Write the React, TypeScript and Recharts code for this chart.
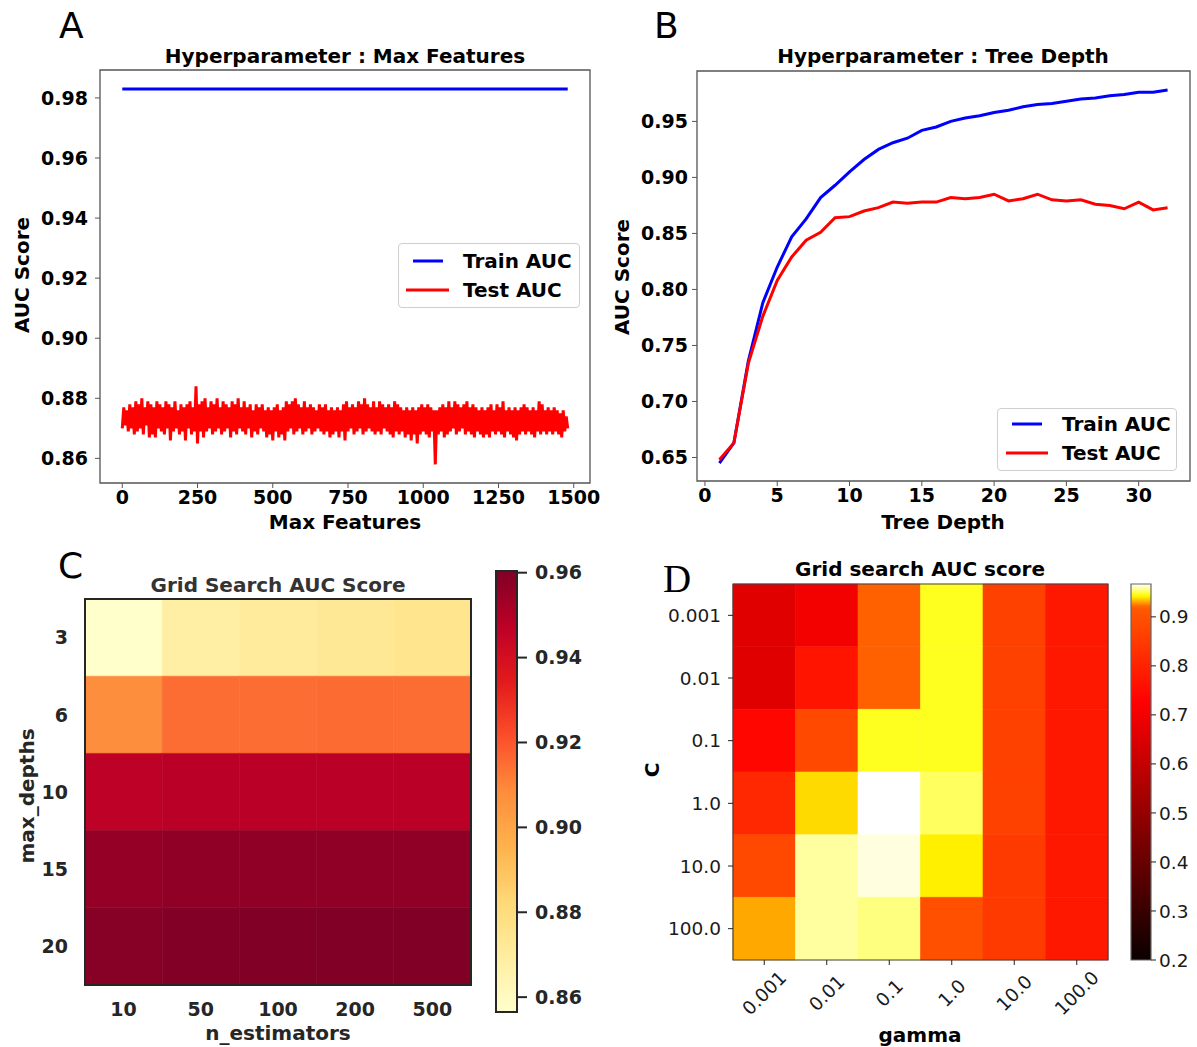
import React from 'react';
import { LineChart, Line, XAxis, YAxis, Legend, ReferenceArea, ScatterChart, Scatter } from 'recharts';

const FONT = '"DejaVu Sans", Verdana, sans-serif';
const SERIF = '"Liberation Serif", "DejaVu Serif", serif';

// ---------------- Panel A : Max Features ----------------
const maxFeatureSteps = Array.from({ length: 297 }, (_, i) => i * 5);
const testAucMaxFeatures = [
  0.870, 0.877, 0.871, 0.876, 0.869, 0.878, 0.870, 0.877, 0.868, 0.879,
  0.869, 0.878, 0.870, 0.880, 0.868, 0.877, 0.871, 0.879, 0.867, 0.878,
  0.868, 0.877, 0.867, 0.879, 0.870, 0.878, 0.869, 0.877, 0.868, 0.879,
  0.870, 0.878, 0.866, 0.877, 0.869, 0.879, 0.870, 0.876, 0.868, 0.878,
  0.869, 0.877, 0.866, 0.878, 0.870, 0.879, 0.868, 0.877, 0.869, 0.884,
  0.865, 0.878, 0.869, 0.879, 0.867, 0.880, 0.869, 0.877, 0.870, 0.879,
  0.868, 0.878, 0.869, 0.880, 0.870, 0.877, 0.868, 0.879, 0.869, 0.878,
  0.870, 0.877, 0.867, 0.879, 0.869, 0.878, 0.868, 0.880, 0.870, 0.877,
  0.869, 0.879, 0.868, 0.877, 0.870, 0.878, 0.867, 0.876, 0.869, 0.878,
  0.868, 0.877, 0.870, 0.878, 0.869, 0.876, 0.867, 0.877, 0.868, 0.876,
  0.866, 0.877, 0.869, 0.878, 0.867, 0.876, 0.868, 0.877, 0.866, 0.879,
  0.869, 0.878, 0.870, 0.879, 0.868, 0.880, 0.869, 0.878, 0.870, 0.877,
  0.868, 0.879, 0.869, 0.877, 0.870, 0.878, 0.868, 0.877, 0.869, 0.876,
  0.870, 0.878, 0.869, 0.877, 0.868, 0.878, 0.869, 0.876, 0.867, 0.877,
  0.868, 0.876, 0.869, 0.877, 0.867, 0.876, 0.869, 0.878, 0.866, 0.879,
  0.869, 0.877, 0.870, 0.878, 0.868, 0.877, 0.869, 0.879, 0.870, 0.878,
  0.868, 0.880, 0.869, 0.878, 0.870, 0.877, 0.869, 0.879, 0.868, 0.877,
  0.869, 0.879, 0.868, 0.878, 0.870, 0.877, 0.869, 0.878, 0.868, 0.877,
  0.867, 0.879, 0.869, 0.878, 0.868, 0.877, 0.869, 0.876, 0.867, 0.877,
  0.868, 0.876, 0.866, 0.877, 0.868, 0.876, 0.865, 0.877, 0.868, 0.878,
  0.869, 0.877, 0.868, 0.878, 0.867, 0.877, 0.869, 0.876, 0.858, 0.876,
  0.868, 0.877, 0.869, 0.878, 0.867, 0.877, 0.868, 0.879, 0.869, 0.877,
  0.870, 0.879, 0.868, 0.878, 0.869, 0.877, 0.870, 0.878, 0.868, 0.879,
  0.869, 0.877, 0.868, 0.878, 0.867, 0.877, 0.869, 0.876, 0.868, 0.877,
  0.867, 0.876, 0.868, 0.877, 0.867, 0.878, 0.869, 0.876, 0.868, 0.878,
  0.869, 0.877, 0.868, 0.879, 0.867, 0.876, 0.869, 0.877, 0.868, 0.876,
  0.867, 0.877, 0.866, 0.876, 0.868, 0.877, 0.869, 0.878, 0.868, 0.877,
  0.869, 0.876, 0.868, 0.877, 0.867, 0.876, 0.869, 0.879, 0.868, 0.878,
  0.869, 0.876, 0.868, 0.877, 0.869, 0.876, 0.868, 0.877, 0.869, 0.876,
  0.868, 0.875, 0.867, 0.876, 0.869, 0.874, 0.870,
];
const trainAucMaxFeatures = 0.983;
const maxFeatureTicks = [0, 250, 500, 750, 1000, 1250, 1500];
const aucTicksA = [0.86, 0.88, 0.9, 0.92, 0.94, 0.96, 0.98];

// ---------------- Panel B : Tree Depth ----------------
const treeDepths = [1, 2, 3, 4, 5, 6, 7, 8, 9, 10, 11, 12, 13, 14, 15, 16, 17, 18, 19, 20, 21, 22, 23, 24, 25, 26, 27, 28, 29, 30, 31, 32];
const trainAucDepth = [0.645, 0.663, 0.736, 0.788, 0.820, 0.847, 0.863, 0.882, 0.893, 0.905, 0.916, 0.925, 0.931, 0.935, 0.942, 0.945, 0.950, 0.953, 0.955, 0.958, 0.960, 0.963, 0.965, 0.966, 0.968, 0.970, 0.971, 0.973, 0.974, 0.976, 0.976, 0.978];
const testAucDepth = [0.648, 0.663, 0.734, 0.776, 0.808, 0.829, 0.844, 0.851, 0.864, 0.865, 0.870, 0.873, 0.878, 0.877, 0.878, 0.878, 0.882, 0.881, 0.882, 0.885, 0.879, 0.881, 0.885, 0.880, 0.879, 0.880, 0.876, 0.875, 0.872, 0.878, 0.871, 0.873];
const depthTicks = [0, 5, 10, 15, 20, 25, 30];
const aucTicksB = [0.65, 0.7, 0.75, 0.8, 0.85, 0.9, 0.95];
const legendOrder = ['Train AUC', 'Test AUC'];

// ---------------- Panel C : RF grid search ----------------
const nEstimators = ['10', '50', '100', '200', '500'];
const maxDepths = ['3', '6', '10', '15', '20'];
const aucDepth3 = [0.8565, 0.868, 0.871, 0.873, 0.875];
const aucDepth6 = [0.908, 0.915, 0.915, 0.9155, 0.915];
const aucDepth10 = [0.947, 0.948, 0.948, 0.948, 0.948];
const aucDepth15 = [0.956, 0.957, 0.957, 0.957, 0.957];
const aucDepth20 = [0.959, 0.960, 0.9604, 0.9604, 0.9603];
const gridC = [aucDepth3, aucDepth6, aucDepth10, aucDepth15, aucDepth20];
const colorbarTicksC = [0.86, 0.88, 0.9, 0.92, 0.94, 0.96];

// ---------------- Panel D : SVM grid search ----------------
const gammaLabels = ['0.001', '0.01', '0.1', '1.0', '10.0', '100.0'];
const cLabels = ['0.001', '0.01', '0.1', '1.0', '10.0', '100.0'];
const aucC0001 = [0.659, 0.700, 0.921, 0.946, 0.865, 0.777];
const aucC001 = [0.659, 0.769, 0.921, 0.946, 0.865, 0.777];
const aucC01 = [0.740, 0.880, 0.946, 0.946, 0.865, 0.777];
const aucC1 = [0.812, 0.938, 0.967, 0.952, 0.865, 0.777];
const aucC10 = [0.880, 0.958, 0.964, 0.941, 0.850, 0.777];
const aucC100 = [0.931, 0.958, 0.955, 0.898, 0.850, 0.777];
const gridD = [aucC0001, aucC001, aucC01, aucC1, aucC10, aucC100];
const colorbarTicksD = [0.2, 0.3, 0.4, 0.5, 0.6, 0.7, 0.8, 0.9];
const vminD = 0.2;
const midpointD = 0.92;

// ---------------- colour maps ----------------
const clamp01 = (x: number) => Math.max(0, Math.min(1, x));
const toHex = (r: number, g: number, b: number) =>
  '#' + [r, g, b].map((c) => Math.round(clamp01(c) * 255).toString(16).padStart(2, '0')).join('');
const parseHex = (h: string) => [parseInt(h.slice(1, 3), 16) / 255, parseInt(h.slice(3, 5), 16) / 255, parseInt(h.slice(5, 7), 16) / 255];

const YLORRD = ['#ffffcc', '#ffeda0', '#fed976', '#feb24c', '#fd8d3c', '#fc4e2a', '#e31a1c', '#bd0026', '#800026'];
function ylOrRd(t: number) {
  const tt = clamp01(t);
  const pos = tt * (YLORRD.length - 1);
  const i = Math.min(Math.floor(pos), YLORRD.length - 2);
  const f = pos - i;
  const a = parseHex(YLORRD[i]);
  const b = parseHex(YLORRD[i + 1]);
  return toHex(a[0] + (b[0] - a[0]) * f, a[1] + (b[1] - a[1]) * f, a[2] + (b[2] - a[2]) * f);
}
function hot(t: number) {
  const x = clamp01(t);
  const k1 = 0.365079;
  const k2 = 0.746032;
  const r = x < k1 ? 0.0416 + (1 - 0.0416) * (x / k1) : 1;
  const g = x < k1 ? 0 : x < k2 ? (x - k1) / (k2 - k1) : 1;
  const b = x < k2 ? 0 : (x - k2) / (1 - k2);
  return toHex(r, g, b);
}

const cMin = Math.min(...gridC.flat());
const cMax = Math.max(...gridC.flat());
const colorC = (v: number) => ylOrRd((v - cMin) / (cMax - cMin));
const vmaxD = Math.max(...gridD.flat());
const normD = (v: number) =>
  v <= midpointD ? 0.5 * (v - vminD) / (midpointD - vminD) : 0.5 + 0.5 * (v - midpointD) / (vmaxD - midpointD);
const colorD = (v: number) => hot(normD(v));

// ---------------- derived rows ----------------
const rowsA = maxFeatureSteps.map((f, i) => ({ feature: f, train: trainAucMaxFeatures, test: testAucMaxFeatures[i] }));
const rowsB = treeDepths.map((d, i) => ({ depth: d, train: trainAucDepth[i], test: testAucDepth[i] }));
const cellsC = gridC.flatMap((row, r) => row.map((v, c) => ({ row: r, col: c, v })));
const cellsD = gridD.flatMap((row, r) => row.map((v, c) => ({ row: r, col: c, v })));
const cbarPointsC = [{ x: 0, y: cMin }, { x: 1, y: cMax }];
const cbarPointsD = [{ x: 0, y: vminD }, { x: 1, y: vmaxD }];

const boldTick = { fontFamily: FONT, fontSize: 19, fontWeight: 700, fill: '#000' };
const boldTickC = { fontFamily: FONT, fontSize: 19, fontWeight: 700, fill: '#262626' };
const regTickD = { fontFamily: FONT, fontSize: 18.5, fill: '#1a1a1a' };

type LegendSpec = { w: number; h: number; textX: number; rows: { x1: number; x2: number; y: number }[] };
const legendSpecA: LegendSpec = { w: 182, h: 65, textX: 64, rows: [{ x1: 14, x2: 44, y: 17 }, { x1: 7, x2: 50, y: 46 }] };
const legendSpecB: LegendSpec = { w: 180, h: 63, textX: 64, rows: [{ x1: 14, x2: 44, y: 15 }, { x1: 8, x2: 50, y: 44 }] };

function AucLegend({ payload, spec }: { payload: any[]; spec: LegendSpec }) {
  const items = [...(payload || [])].sort((a, b) => legendOrder.indexOf(a.value) - legendOrder.indexOf(b.value));
  return (
    <div
      style={{
        position: 'relative',
        width: spec.w,
        height: spec.h,
        boxSizing: 'border-box',
        border: '1px solid #cfcfcf',
        borderRadius: 4,
        background: 'rgba(255,255,255,0.85)',
      }}
    >
      <svg width={spec.w} height={spec.h} style={{ position: 'absolute', left: 0, top: 0 }}>
        {items.map((p, i) => {
          const row = spec.rows[i] || spec.rows[0];
          return (
            <g key={i}>
              <line x1={row.x1} x2={row.x2} y1={row.y} y2={row.y} stroke={p.color} strokeWidth={3} />
              <text x={spec.textX} y={row.y} dominantBaseline="central" fontFamily={FONT} fontWeight={700} fontSize={20} fill="#000">
                {p.value}
              </text>
            </g>
          );
        })}
      </svg>
    </div>
  );
}

function PanelA() {
  return (
    <LineChart width={600} height={540} data={rowsA} margin={{ top: 70, right: 10, bottom: 0, left: 0 }}>
      <XAxis type="number" dataKey="feature" domain={[-74, 1554]} allowDataOverflow ticks={maxFeatureTicks} interval={0}
        height={57} axisLine={false} tickLine={{ stroke: '#555' }} tickSize={5} tickMargin={3} tick={boldTick} />
      <YAxis type="number" domain={[0.8518, 0.9893]} allowDataOverflow ticks={aucTicksA} interval={0} width={100}
        axisLine={false} tickLine={{ stroke: '#555' }} tickSize={5} tickMargin={7} tick={boldTick}
        tickFormatter={(v: number) => v.toFixed(2)} />
      <ReferenceArea x1={-74} x2={1554} y1={0.8518} y2={0.9893} fill="none" stroke="#555" strokeWidth={1.3} ifOverflow="visible" />
      <Line type="linear" dataKey="train" name="Train AUC" stroke="#0000ff" strokeWidth={3} dot={false} isAnimationActive={false} />
      <Line type="linear" dataKey="test" name="Test AUC" stroke="#ff0000" strokeWidth={3} dot={false} isAnimationActive={false} />
      <Legend layout="vertical" align="center" verticalAlign="middle" wrapperStyle={{ left: 398, top: 243, width: 182 }}
        content={(props: any) => <AucLegend payload={props.payload} spec={legendSpecA} />} />
    </LineChart>
  );
}

function PanelB() {
  return (
    <LineChart width={597} height={540} data={rowsB} margin={{ top: 71, right: 7, bottom: 0, left: 0 }}>
      <XAxis type="number" dataKey="depth" domain={[-0.55, 33.55]} allowDataOverflow ticks={depthTicks} interval={0}
        height={59} axisLine={false} tickLine={{ stroke: '#555' }} tickSize={5} tickMargin={3} tick={boldTick} />
      <YAxis type="number" domain={[0.629, 0.995]} allowDataOverflow ticks={aucTicksB} interval={0} width={97}
        axisLine={false} tickLine={{ stroke: '#555' }} tickSize={5} tickMargin={4} tick={boldTick}
        tickFormatter={(v: number) => v.toFixed(2)} />
      <ReferenceArea x1={-0.55} x2={33.55} y1={0.629} y2={0.995} fill="none" stroke="#555" strokeWidth={1.3} ifOverflow="visible" />
      <Line type="linear" dataKey="train" name="Train AUC" stroke="#0000ff" strokeWidth={3} dot={false} isAnimationActive={false} />
      <Line type="linear" dataKey="test" name="Test AUC" stroke="#ff0000" strokeWidth={3} dot={false} isAnimationActive={false} />
      <Legend layout="vertical" align="center" verticalAlign="middle" wrapperStyle={{ left: 397, top: 408, width: 180 }}
        content={(props: any) => <AucLegend payload={props.payload} spec={legendSpecB} />} />
    </LineChart>
  );
}

function PanelC() {
  const n = nEstimators.length;
  const m = maxDepths.length;
  return (
    <ScatterChart width={480} height={502} margin={{ top: 54, right: 9, bottom: 0, left: 0 }}>
      <XAxis type="number" dataKey="col" domain={[-0.5, n - 0.5]} allowDataOverflow ticks={nEstimators.map((_, i) => i)} interval={0}
        height={62} axisLine={false} tickLine={false} tickSize={5} tickMargin={12.5} tick={boldTickC}
        tickFormatter={(i: number) => nEstimators[i]} />
      <YAxis type="number" dataKey="row" domain={[-0.5, m - 0.5]} allowDataOverflow reversed ticks={maxDepths.map((_, i) => i)} interval={0}
        width={85} axisLine={false} tickLine={false} tickSize={5} tickMargin={12} tick={boldTickC}
        tickFormatter={(i: number) => maxDepths[i]} />
      {cellsC.map((c) => (
        <ReferenceArea key={`c${c.row}-${c.col}`} x1={c.col - 0.5} x2={c.col + 0.5} y1={c.row - 0.5} y2={c.row + 0.5}
          fill={colorC(c.v)} fillOpacity={1} stroke={colorC(c.v)} strokeWidth={0.6} ifOverflow="visible" />
      ))}
      <ReferenceArea x1={-0.5} x2={n - 0.5} y1={-0.5} y2={m - 0.5} fill="none" stroke="#262626" strokeWidth={2} ifOverflow="visible" />
      <Scatter data={cellsC} isAnimationActive={false} shape={() => <g />} />
    </ScatterChart>
  );
}

function ColorbarC() {
  const stops = Array.from({ length: 41 }, (_, i) => ({ offset: i / 40, color: colorC(cMin + ((cMax - cMin) * i) / 40) }));
  return (
    <ScatterChart width={110} height={502} margin={{ top: 26, right: 0, bottom: 35, left: 16 }}>
      <defs>
        <linearGradient id="cbarC" x1="0" y1="1" x2="0" y2="0">
          {stops.map((s, i) => (
            <stop key={i} offset={s.offset} stopColor={s.color} />
          ))}
        </linearGradient>
      </defs>
      <XAxis type="number" dataKey="x" hide domain={[0, 1]} allowDataOverflow />
      <YAxis type="number" dataKey="y" orientation="right" domain={[cMin, cMax]} allowDataOverflow ticks={colorbarTicksC} interval={0} width={73}
        axisLine={false} tickLine={{ stroke: '#262626', strokeWidth: 2 }} tickSize={10} tickMargin={8} tick={boldTickC}
        tickFormatter={(v: number) => v.toFixed(2)} />
      <ReferenceArea x1={0} x2={1} y1={cMin} y2={cMax} fill="url(#cbarC)" fillOpacity={1} stroke="#262626" strokeWidth={2} ifOverflow="visible" />
      <Scatter data={cbarPointsC} isAnimationActive={false} shape={() => <g />} />
    </ScatterChart>
  );
}

function RotatedTick(props: any) {
  const { x, y, payload } = props;
  const cy = y + 26;
  return (
    <text x={x} y={cy} transform={`rotate(-45, ${x}, ${cy})`} textAnchor="middle" dominantBaseline="central"
      fontFamily={FONT} fontSize={18.5} fill="#1a1a1a">
      {gammaLabels[payload.value]}
    </text>
  );
}

function PanelD() {
  const n = gammaLabels.length;
  const m = cLabels.length;
  return (
    <ScatterChart width={480} height={502} margin={{ top: 39, right: 12, bottom: 0, left: 0 }}>
      <XAxis type="number" dataKey="col" domain={[-0.5, n - 0.5]} allowDataOverflow ticks={gammaLabels.map((_, i) => i)} interval={0}
        height={87} axisLine={false} tickLine={{ stroke: '#222' }} tickSize={5} tickMargin={2} tick={<RotatedTick />} />
      <YAxis type="number" dataKey="row" domain={[-0.5, m - 0.5]} allowDataOverflow reversed ticks={cLabels.map((_, i) => i)} interval={0}
        width={93} axisLine={false} tickLine={{ stroke: '#222' }} tickSize={5} tickMargin={7} tick={regTickD}
        tickFormatter={(i: number) => cLabels[i]} />
      {cellsD.map((c) => (
        <ReferenceArea key={`d${c.row}-${c.col}`} x1={c.col - 0.5} x2={c.col + 0.5} y1={c.row - 0.5} y2={c.row + 0.5}
          fill={colorD(c.v)} fillOpacity={1} stroke={colorD(c.v)} strokeWidth={0.6} ifOverflow="visible" />
      ))}
      <ReferenceArea x1={-0.5} x2={n - 0.5} y1={-0.5} y2={m - 0.5} fill="none" stroke="#444" strokeWidth={1.2} ifOverflow="visible" />
      <Scatter data={cellsD} isAnimationActive={false} shape={() => <g />} />
    </ScatterChart>
  );
}

function ColorbarD() {
  const N = 120;
  const stops = Array.from({ length: N + 1 }, (_, i) => ({ offset: i / N, color: colorD(vminD + ((vmaxD - vminD) * i) / N) }));
  return (
    <ScatterChart width={77} height={502} margin={{ top: 39, right: 0, bottom: 87, left: 11 }}>
      <defs>
        <linearGradient id="cbarD" x1="0" y1="1" x2="0" y2="0">
          {stops.map((s, i) => (
            <stop key={i} offset={s.offset} stopColor={s.color} />
          ))}
        </linearGradient>
      </defs>
      <XAxis type="number" dataKey="x" hide domain={[0, 1]} allowDataOverflow />
      <YAxis type="number" dataKey="y" orientation="right" domain={[vminD, vmaxD]} allowDataOverflow ticks={colorbarTicksD} interval={0} width={46}
        axisLine={false} tickLine={{ stroke: '#222' }} tickSize={5} tickMargin={3} tick={regTickD}
        tickFormatter={(v: number) => v.toFixed(1)} />
      <ReferenceArea x1={0} x2={1} y1={vminD} y2={vmaxD} fill="url(#cbarD)" fillOpacity={1} stroke="#666" strokeWidth={1.2} ifOverflow="visible" />
      <Scatter data={cbarPointsD} isAnimationActive={false} shape={() => <g />} />
    </ScatterChart>
  );
}

function Overlay() {
  const bold = { fontFamily: FONT, fontWeight: 700, fontSize: 20 } as const;
  return (
    <svg width={1197} height={1047} style={{ position: 'absolute', left: 0, top: 0, pointerEvents: 'none' }}>
      {/* panel letters */}
      <text x={59} y={38} fontFamily={FONT} fontSize={36} fill="#000">A</text>
      <text x={654} y={38} fontFamily={FONT} fontSize={36} fill="#000">B</text>
      <text x={58} y={578} fontFamily={FONT} fontSize={36} fill="#000">C</text>
      <text x={663} y={592} fontFamily={SERIF} fontSize={39} fill="#000">D</text>
      {/* titles */}
      <text x={345} y={56} textAnchor="middle" dominantBaseline="central" {...bold} fill="#000">Hyperparameter : Max Features</text>
      <text x={943} y={56} textAnchor="middle" dominantBaseline="central" {...bold} fill="#000">Hyperparameter : Tree Depth</text>
      <text x={278} y={585} textAnchor="middle" dominantBaseline="central" {...bold} fill="#333">Grid Search AUC Score</text>
      <text x={920} y={569} textAnchor="middle" dominantBaseline="central" {...bold} fill="#000">Grid search AUC score</text>
      {/* axis titles */}
      <text x={345} y={522} textAnchor="middle" dominantBaseline="central" {...bold} fill="#000">Max Features</text>
      <text x={22} y={275} textAnchor="middle" dominantBaseline="central" transform="rotate(-90, 22, 275)" {...bold} fill="#000">AUC Score</text>
      <text x={943} y={522} textAnchor="middle" dominantBaseline="central" {...bold} fill="#000">Tree Depth</text>
      <text x={622} y={277} textAnchor="middle" dominantBaseline="central" transform="rotate(-90, 622, 277)" {...bold} fill="#000">AUC Score</text>
      <text x={278} y={1033} textAnchor="middle" dominantBaseline="central" {...bold} fill="#262626">n_estimators</text>
      <text x={27} y={796} textAnchor="middle" dominantBaseline="central" transform="rotate(-90, 27, 796)" {...bold} fill="#262626">max_depths</text>
      <text x={920} y={1035} textAnchor="middle" dominantBaseline="central" {...bold} fill="#000">gamma</text>
      <text x={652} y={770} textAnchor="middle" dominantBaseline="central" transform="rotate(-90, 652, 770)" {...bold} fill="#000">C</text>
    </svg>
  );
}

export default function App() {
  return (
    <div style={{ position: 'absolute', left: 0, top: 0, width: 1197, height: 1047, background: '#fff', overflow: 'hidden' }}>
      <div style={{ position: 'absolute', left: 0, top: 0 }}><PanelA /></div>
      <div style={{ position: 'absolute', left: 600, top: 0 }}><PanelB /></div>
      <div style={{ position: 'absolute', left: 0, top: 545 }}><PanelC /></div>
      <div style={{ position: 'absolute', left: 480, top: 545 }}><ColorbarC /></div>
      <div style={{ position: 'absolute', left: 640, top: 545 }}><PanelD /></div>
      <div style={{ position: 'absolute', left: 1120, top: 545 }}><ColorbarD /></div>
      <Overlay />
    </div>
  );
}
